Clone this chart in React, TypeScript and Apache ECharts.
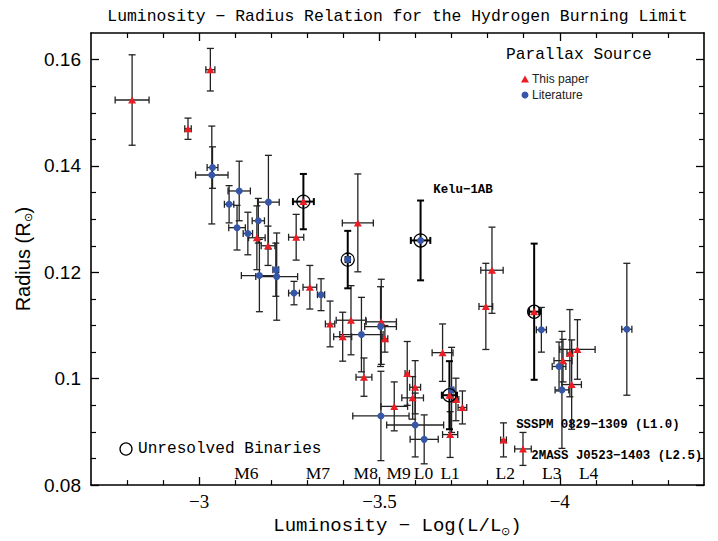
import React, { useEffect, useRef } from 'react';
import * as echarts from 'echarts';

// [log L, radius, x error, y error]
const thisPaper: number[][] = [
  [-2.814, 0.1524, 0.047, 0.0085],
  [-3.031, 0.1581, 0.0125, 0.004],
  [-2.969, 0.147, 0.009, 0.002],
  [-3.16, 0.1265, 0.023, 0.006],
  [-3.191, 0.125, 0.019, 0.0037],
  [-3.269, 0.1266, 0.021, 0.0043],
  [-3.307, 0.1172, 0.019, 0.0041],
  [-3.44, 0.1293, 0.043, 0.0092],
  [-3.363, 0.1103, 0.013, 0.0043],
  [-3.421, 0.111, 0.041, 0.0065],
  [-3.398, 0.1079, 0.025, 0.0046],
  [-3.505, 0.1107, 0.042, 0.008],
  [-3.515, 0.1075, 0.008, 0.0025],
  [-3.457, 0.1003, 0.022, 0.0036],
  [-3.541, 0.0948, 0.037, 0.0046],
  [-3.577, 0.101, 0.006, 0.006],
  [-3.599, 0.0984, 0.015, 0.005],
  [-3.592, 0.0964, 0.03, 0.004],
  [-3.675, 0.1049, 0.029, 0.0054],
  [-3.712, 0.0961, 0.008, 0.004],
  [-3.73, 0.0946, 0.012, 0.0031],
  [-3.696, 0.0895, 0.021, 0.0043],
  [-3.812, 0.1204, 0.031, 0.0081],
  [-3.795, 0.1136, 0.019, 0.0081],
  [-3.844, 0.0885, 0.008, 0.0032],
  [-3.898, 0.0868, 0.023, 0.0031],
  [-4.028, 0.1048, 0.008, 0.0082],
  [-4.049, 0.1055, 0.049, 0.0056],
  [-4.009, 0.1034, 0.025, 0.004],
  [-4.033, 0.0989, 0.027, 0.0084],
];
const thisPaperBinaries: number[][] = [
  [-3.289, 0.1333, 0.029, 0.0052],
  [-3.694, 0.0969, 0.021, 0.0064],
  [-3.929, 0.1126, 0.014, 0.0128],
];
const literature: number[][] = [
  [-3.037, 0.1397, 0.015, 0.0039],
  [-3.035, 0.1383, 0.045, 0.0092],
  [-3.111, 0.1353, 0.031, 0.0056],
  [-3.083, 0.1328, 0.013, 0.0035],
  [-3.105, 0.1284, 0.023, 0.0042],
  [-3.135, 0.1273, 0.013, 0.004],
  [-3.164, 0.1297, 0.017, 0.0042],
  [-3.192, 0.1332, 0.03, 0.0088],
  [-3.167, 0.1194, 0.05, 0.0068],
  [-3.215, 0.1192, 0.058, 0.0082],
  [-3.2125, 0.1205, 0.008, 0.005],
  [-3.263, 0.1161, 0.015, 0.0022],
  [-3.338, 0.1158, 0.01, 0.003],
  [-3.45, 0.1083, 0.06, 0.007],
  [-3.503, 0.1098, 0.044, 0.0075],
  [-3.504, 0.093, 0.078, 0.0084],
  [-3.599, 0.0913, 0.079, 0.006],
  [-3.624, 0.0886, 0.039, 0.0046],
  [-3.7, 0.0979, 0.006, 0.008],
  [-3.949, 0.1092, 0.014, 0.0042],
  [-4.186, 0.1093, 0.014, 0.0124],
  [-3.998, 0.1023, 0.019, 0.0046],
  [-4.006, 0.0979, 0.019, 0.011],
];
const literatureBinaries: number[][] = [
  [-3.412, 0.1224, 0.006, 0.0054],
  [-3.614, 0.126, 0.027, 0.0075],
];

const spectralTypes = ['M6', 'M7', 'M8', 'M9', 'L0', 'L1', 'L2', 'L3', 'L4'];
const spectralLum = [-3.131, -3.329, -3.462, -3.553, -3.622, -3.696, -3.849, -3.978, -4.08];
const spectralRadius = 0.0822;

const annotationTexts = ['Kelu−1AB', 'SSSPM 0829−1309 (L1.0)', '2MASS J0523−1403 (L2.5)'];
const annotationLum = [-3.649, -3.879, -3.921];
const annotationRadius = [0.1355, 0.0913, 0.0854];

const xMajorTicks = [-4, -3.5, -3];
const xMinorTicks = [-4.3, -4.2, -4.1, -3.9, -3.8, -3.7, -3.6, -3.4, -3.3, -3.2, -3.1, -2.9, -2.8];
const yMajorTicks = [0.08, 0.1, 0.12, 0.14, 0.16];
const yMinorTicks = [0.085, 0.09, 0.095, 0.105, 0.11, 0.115, 0.125, 0.13, 0.135, 0.145, 0.15, 0.155];

const MONO = "'Liberation Mono', 'DejaVu Sans Mono', monospace";
const SANS = "'Liberation Sans', Arial, sans-serif";
const SERIF = "'Liberation Serif', 'DejaVu Serif', serif";
const RED = '#ec1c24';
const BLUE = '#3656a8';

function errorBarRenderer(color: string, width: number) {
  return (params: any, api: any) => {
    const x = api.value(0);
    const y = api.value(1);
    const xe = api.value(2);
    const ye = api.value(3);
    const c = api.coord([x, y]);
    const l = api.coord([x - xe, y]);
    const r = api.coord([x + xe, y]);
    const t = api.coord([x, y + ye]);
    const b = api.coord([x, y - ye]);
    const cap = 3.5;
    const style = { stroke: color, lineWidth: width };
    return {
      type: 'group',
      children: [
        { type: 'line', shape: { x1: l[0], y1: c[1], x2: r[0], y2: c[1] }, style },
        { type: 'line', shape: { x1: l[0], y1: c[1] - cap, x2: l[0], y2: c[1] + cap }, style },
        { type: 'line', shape: { x1: r[0], y1: c[1] - cap, x2: r[0], y2: c[1] + cap }, style },
        { type: 'line', shape: { x1: c[0], y1: t[1], x2: c[0], y2: b[1] }, style },
        { type: 'line', shape: { x1: c[0] - cap, y1: t[1], x2: c[0] + cap, y2: t[1] }, style },
        { type: 'line', shape: { x1: c[0] - cap, y1: b[1], x2: c[0] + cap, y2: b[1] }, style },
      ],
    };
  };
}

const fmtX = (v: number) => (v < 0 ? '−' : '') + String(Math.abs(v));
const fmtY = (v: number) => String(parseFloat(v.toFixed(3)));

export default function App() {
  const ref = useRef<HTMLDivElement>(null);

  useEffect(() => {
    if (!ref.current) return;
    const chart = echarts.init(ref.current, null, { renderer: 'svg' });

    const axisLine = { show: true, lineStyle: { color: '#000', width: 1.6 } };
    const xCommon = { type: 'value', min: -4.4, max: -2.7, inverse: true, splitLine: { show: false } };
    const yCommon = { type: 'value', min: 0.08, max: 0.165, splitLine: { show: false } };

    const binaries = [...thisPaperBinaries, ...literatureBinaries];

    const option: any = {
      animation: false,
      backgroundColor: '#fff',
      grid: { left: 91, right: 14, top: 33, bottom: 51, containLabel: false },
      xAxis: [
        {
          ...xCommon,
          position: 'bottom',
          axisLine,
          axisTick: { show: true, inside: true, length: 8, customValues: xMajorTicks, lineStyle: { color: '#000', width: 1.3 } },
          axisLabel: { show: true, customValues: xMajorTicks, formatter: fmtX, fontFamily: SERIF, fontSize: 19, color: '#000', margin: 7 },
          name: 'Luminosity − Log(L/L{sub|⊙})',
          nameLocation: 'middle',
          nameGap: 24,
          nameTextStyle: {
            fontFamily: MONO, fontSize: 19, color: '#000',
            rich: { sub: { fontFamily: SANS, fontSize: 11, padding: [10, 0, 0, 0], color: '#000' } },
          },
        },
        {
          ...xCommon,
          position: 'bottom',
          axisLine: { show: false },
          axisTick: { show: true, inside: true, length: 5, customValues: xMinorTicks, lineStyle: { color: '#000', width: 1.2 } },
          axisLabel: { show: false },
        },
        {
          ...xCommon,
          position: 'top',
          axisLine,
          axisTick: { show: true, inside: true, length: 8, customValues: xMajorTicks, lineStyle: { color: '#000', width: 1.3 } },
          axisLabel: { show: false },
        },
        {
          ...xCommon,
          position: 'top',
          axisLine: { show: false },
          axisTick: { show: true, inside: true, length: 5, customValues: xMinorTicks, lineStyle: { color: '#000', width: 1.2 } },
          axisLabel: { show: false },
        },
      ],
      yAxis: [
        {
          ...yCommon,
          position: 'left',
          axisLine,
          axisTick: { show: true, inside: true, length: 8, customValues: yMajorTicks, lineStyle: { color: '#000', width: 1.3 } },
          axisLabel: { show: true, customValues: yMajorTicks, formatter: fmtY, fontFamily: SANS, fontSize: 19, color: '#000', margin: 10 },
          name: 'Radius (R{sub|⊙})',
          nameLocation: 'middle',
          nameGap: 54,
          nameTextStyle: {
            fontFamily: SANS, fontSize: 20, color: '#000',
            rich: { sub: { fontFamily: SANS, fontSize: 11, padding: [10, 0, 0, 0], color: '#000' } },
          },
        },
        {
          ...yCommon,
          position: 'left',
          axisLine: { show: false },
          axisTick: { show: true, inside: true, length: 5, customValues: yMinorTicks, lineStyle: { color: '#000', width: 1.2 } },
          axisLabel: { show: false },
        },
        {
          ...yCommon,
          position: 'right',
          axisLine,
          axisTick: { show: true, inside: true, length: 8, customValues: yMajorTicks, lineStyle: { color: '#000', width: 1.3 } },
          axisLabel: { show: false },
        },
        {
          ...yCommon,
          position: 'right',
          axisLine: { show: false },
          axisTick: { show: true, inside: true, length: 5, customValues: yMinorTicks, lineStyle: { color: '#000', width: 1.2 } },
          axisLabel: { show: false },
        },
      ],
      legend: {
        orient: 'vertical',
        left: 516,
        top: 68,
        itemWidth: 8,
        itemHeight: 7,
        itemGap: 4,
        selectedMode: false,
        textStyle: { fontFamily: SANS, fontSize: 12, color: '#222', padding: [0, 0, 0, -2] },
        data: [
          { name: 'This paper', icon: 'triangle' },
          { name: 'Literature', icon: 'circle' },
        ],
      },
      graphic: [
        {
          type: 'text',
          x: 397.5,
          y: 16,
          style: {
            text: 'Luminosity − Radius Relation for the Hydrogen Burning Limit',
            fontFamily: MONO, fontSize: 16.4, fill: '#000', align: 'center', verticalAlign: 'middle',
          },
        },
        {
          type: 'text',
          x: 506,
          y: 55,
          style: { text: 'Parallax Source', fontFamily: MONO, fontSize: 16.2, fill: '#000', align: 'left', verticalAlign: 'middle' },
        },
        {
          type: 'circle',
          shape: { cx: 126, cy: 449, r: 6 },
          style: { fill: 'none', stroke: '#000', lineWidth: 1.3 },
        },
        {
          type: 'text',
          x: 138,
          y: 449,
          style: { text: 'Unresolved Binaries', fontFamily: MONO, fontSize: 16.1, fill: '#000', align: 'left', verticalAlign: 'middle' },
        },
      ],
      series: [
        {
          type: 'custom',
          name: 'errors',
          renderItem: errorBarRenderer('#222', 1.3),
          encode: { x: 0, y: 1 },
          data: [...thisPaper, ...literature],
          z: 2,
          silent: true,
        },
        {
          type: 'custom',
          name: 'binaryErrors',
          renderItem: errorBarRenderer('#000', 2),
          encode: { x: 0, y: 1 },
          data: binaries,
          z: 2,
          silent: true,
        },
        {
          type: 'scatter',
          name: 'This paper',
          symbol: 'triangle',
          symbolSize: [8, 7],
          itemStyle: { color: RED, opacity: 1 },
          data: [...thisPaper, ...thisPaperBinaries].map((d) => [d[0], d[1]]),
          z: 3,
        },
        {
          type: 'scatter',
          name: 'Literature',
          symbol: 'circle',
          symbolSize: 7,
          itemStyle: { color: BLUE, opacity: 1 },
          data: [...literature, ...literatureBinaries].map((d) => [d[0], d[1]]),
          z: 3,
        },
        {
          type: 'scatter',
          name: 'Unresolved Binaries',
          symbol: 'circle',
          symbolSize: 13,
          itemStyle: { color: 'rgba(0,0,0,0)', borderColor: '#000', borderWidth: 1.3, opacity: 1 },
          data: binaries.map((d) => [d[0], d[1]]),
          z: 4,
        },
        {
          type: 'scatter',
          name: 'spectral',
          symbolSize: 0,
          silent: true,
          itemStyle: { opacity: 1 },
          data: spectralTypes.map((s, i) => ({ name: s, value: [spectralLum[i], spectralRadius] })),
          label: { show: true, position: 'inside', formatter: '{b}', fontFamily: SERIF, fontSize: 17.5, color: '#000', opacity: 1 },
          z: 5,
        },
        {
          type: 'scatter',
          name: 'annotations',
          symbolSize: 0,
          silent: true,
          clip: false,
          itemStyle: { opacity: 1 },
          data: annotationTexts.map((s, i) => ({ name: s, value: [annotationLum[i], annotationRadius[i]] })),
          label: {
            show: true, position: 'right', distance: 0, formatter: '{b}', fontFamily: MONO, fontSize: 12.4,
            fontWeight: 'bold', color: '#000', opacity: 1,
          },
          z: 5,
        },
      ],
    };

    chart.setOption(option);
    return () => chart.dispose();
  }, []);

  return <div ref={ref} style={{ position: 'absolute', left: 0, top: 0, width: 718, height: 541 }} />;
}
